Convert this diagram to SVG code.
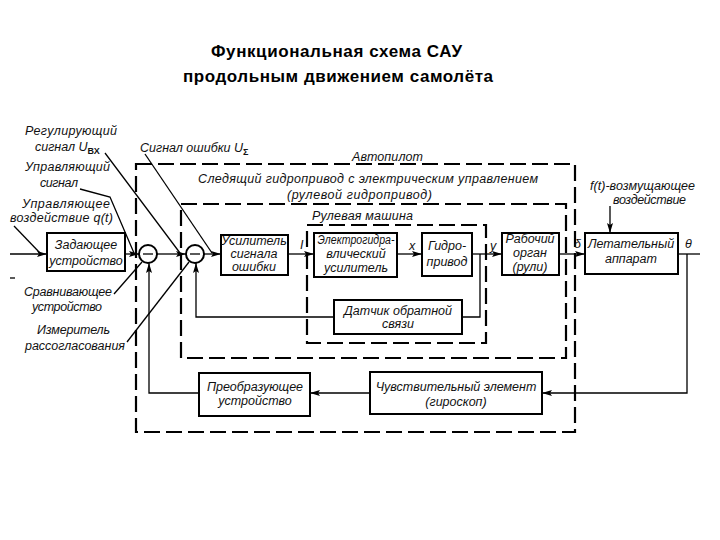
<svg xmlns="http://www.w3.org/2000/svg" width="720" height="540" viewBox="0 0 720 540">
<style>
.box{fill:#fff;stroke:#000;stroke-width:2}
.dash{fill:none;stroke:#000;stroke-width:2.2;stroke-dasharray:16 6}
.ln{fill:none;stroke:#000;stroke-width:1.3}
.ar{marker-end:url(#arr)}
.t{font-family:"Liberation Sans",Arial,sans-serif;font-style:italic;font-size:12.5px;fill:#111}
.c{text-anchor:middle}
.sub{font-style:normal;font-weight:bold;font-size:9px}
.title{font-family:"Liberation Sans",Arial,sans-serif;font-size:17px;font-weight:bold;fill:#000}
</style>
<defs>
<marker id="arr" markerUnits="userSpaceOnUse" markerWidth="10" markerHeight="6" refX="10" refY="3" orient="auto">
<path d="M0,0 L10,3 L0,6 L2,3 z" fill="#000"/>
</marker>
</defs>
<rect width="720" height="540" fill="#fff"/>

<g id="title">
<text class="title" x="211" y="57" textLength="251">Функциональная схема САУ</text>
<text class="title" x="183" y="82" textLength="310">продольным движением самолёта</text>
</g>

<g id="frames">
<rect id="autopilot-frame" class="dash" x="136" y="164" width="439" height="268"/>
<rect id="servo-frame" class="dash" x="181" y="204" width="385" height="154"/>
<rect id="steering-frame" class="dash" x="307" y="225" width="179" height="118"/>
<text class="t" x="352" y="161" textLength="71">Автопилот</text>
<text class="t" x="198" y="183" textLength="340">Следящий  гидропривод с электрическим  управлением</text>
<text class="t" x="287" y="199" textLength="145">(рулевой  гидропривод)</text>
<text class="t" x="312" y="220" textLength="101">Рулевая  машина</text>
</g>

<g id="connectors">
<line class="ln ar" x1="10" y1="254" x2="47" y2="254"/>
<line class="ln ar" x1="125" y1="254" x2="139" y2="254"/>
<line class="ln ar" x1="157" y1="254" x2="186" y2="254"/>
<line class="ln ar" x1="204" y1="254" x2="221" y2="254"/>
<line class="ln ar" x1="288" y1="254" x2="314" y2="254"/>
<line class="ln ar" x1="397" y1="254" x2="422" y2="254"/>
<line class="ln ar" x1="472" y1="254" x2="502" y2="254"/>
<line class="ln ar" x1="559" y1="254" x2="585" y2="254"/>
<line class="ln" x1="678" y1="254" x2="700" y2="254"/>
<polyline class="ln ar" points="687,254 687,393 542,393"/>
<line class="ln ar" x1="370" y1="393" x2="310" y2="393"/>
<polyline class="ln ar" points="199,393 149,393 149,263"/>
<polyline class="ln" points="480,254 480,317 462,317"/>
<polyline class="ln ar" points="334,317 196,317 196,263"/>
<line class="ln ar" x1="610" y1="206" x2="610" y2="233"/>
<line class="ln" x1="105" y1="153" x2="180" y2="253"/>
<line class="ln" x1="145" y1="154" x2="212" y2="253"/>
<polyline class="ln" points="80,189 110,197 134,253"/>
<line class="ln" x1="14" y1="226" x2="40" y2="253"/>
<line class="ln" x1="114" y1="294" x2="142" y2="262"/>
<line class="ln" x1="127" y1="342" x2="189" y2="262"/>
<line class="ln" x1="10" y1="278" x2="15" y2="278"/>
<text class="t" x="300" y="249">I</text>
<text class="t" x="409" y="250">x</text>
<text class="t" x="490" y="250">y</text>
<text class="t" x="574" y="248">δ</text>
<text class="t" x="685" y="248">θ</text>
</g>

<g id="zadayushchee">
<rect class="box" x="47" y="233" width="78" height="38"/>
<text class="t c" x="86" y="249">Задающее</text>
<text class="t c" x="86" y="265">устройство</text>
</g>
<g id="sum1">
<circle class="box" cx="148" cy="254" r="9"/>
<line class="ln" x1="143" y1="254" x2="153" y2="254" stroke-width="2"/>
</g>
<g id="sum2">
<circle class="box" cx="195" cy="254" r="9"/>
<line class="ln" x1="190" y1="254" x2="200" y2="254" stroke-width="2"/>
</g>
<g id="usilitel">
<rect class="box" x="221" y="235" width="67" height="40"/>
<text class="t c" x="254" y="245">Усилитель</text>
<text class="t c" x="254" y="258">сигнала</text>
<text class="t c" x="254" y="271">ошибки</text>
</g>
<g id="egu">
<rect class="box" x="314" y="233" width="83" height="44"/>
<text class="t c" x="356" y="244" textLength="77" lengthAdjust="spacingAndGlyphs">Электрогидра-</text>
<text class="t c" x="356" y="258">влический</text>
<text class="t c" x="356" y="272">усилитель</text>
</g>
<g id="gidroprivod">
<rect class="box" x="422" y="233" width="50" height="43"/>
<text class="t c" x="447" y="250">Гидро-</text>
<text class="t c" x="447" y="266">привод</text>
</g>
<g id="rabochiy">
<rect class="box" x="502" y="233" width="57" height="42"/>
<text class="t c" x="530" y="243">Рабочий</text>
<text class="t c" x="530" y="257">орган</text>
<text class="t c" x="530" y="271">(рули)</text>
</g>
<g id="la">
<rect class="box" x="585" y="233" width="93" height="41"/>
<text class="t c" x="631" y="248">Летательный</text>
<text class="t c" x="631" y="263">аппарат</text>
</g>
<g id="datchik">
<rect class="box" x="334" y="300" width="128" height="34"/>
<text class="t c" x="398" y="315">Датчик  обратной</text>
<text class="t c" x="398" y="328">связи</text>
</g>
<g id="preobr">
<rect class="box" x="199" y="373" width="111" height="43"/>
<text class="t c" x="255" y="391">Преобразующее</text>
<text class="t c" x="255" y="405">устройство</text>
</g>
<g id="chuvstv">
<rect class="box" x="370" y="372" width="172" height="42"/>
<text class="t c" x="456" y="391">Чувствительный  элемент</text>
<text class="t c" x="456" y="406">(гироскоп)</text>
</g>

<g id="annotations">
<text class="t" x="25" y="135" textLength="92">Регулирующий</text>
<text class="t" x="35" y="151">сигнал U<tspan class="sub" dy="3">ВХ</tspan></text>
<text class="t" x="25" y="171" textLength="85">Управляющий</text>
<text class="t" x="40" y="187" textLength="38">сигнал</text>
<text class="t" x="22" y="208" textLength="88">Управляющее</text>
<text class="t" x="10" y="222" textLength="103">воздействие q(t)</text>
<text class="t" x="24" y="296" textLength="88">Сравнивающее</text>
<text class="t" x="32" y="311" textLength="70">устройство</text>
<text class="t" x="37" y="334" textLength="73">Измеритель</text>
<text class="t" x="25" y="350" textLength="100">рассогласования</text>
<text class="t" x="140" y="152">Сигнал ошибки U<tspan class="sub" dy="3">Σ</tspan></text>
<text class="t" x="590" y="190" textLength="105">f(t)-возмущающее</text>
<text class="t" x="613" y="204" textLength="73">воздействие</text>
</g>
</svg>
